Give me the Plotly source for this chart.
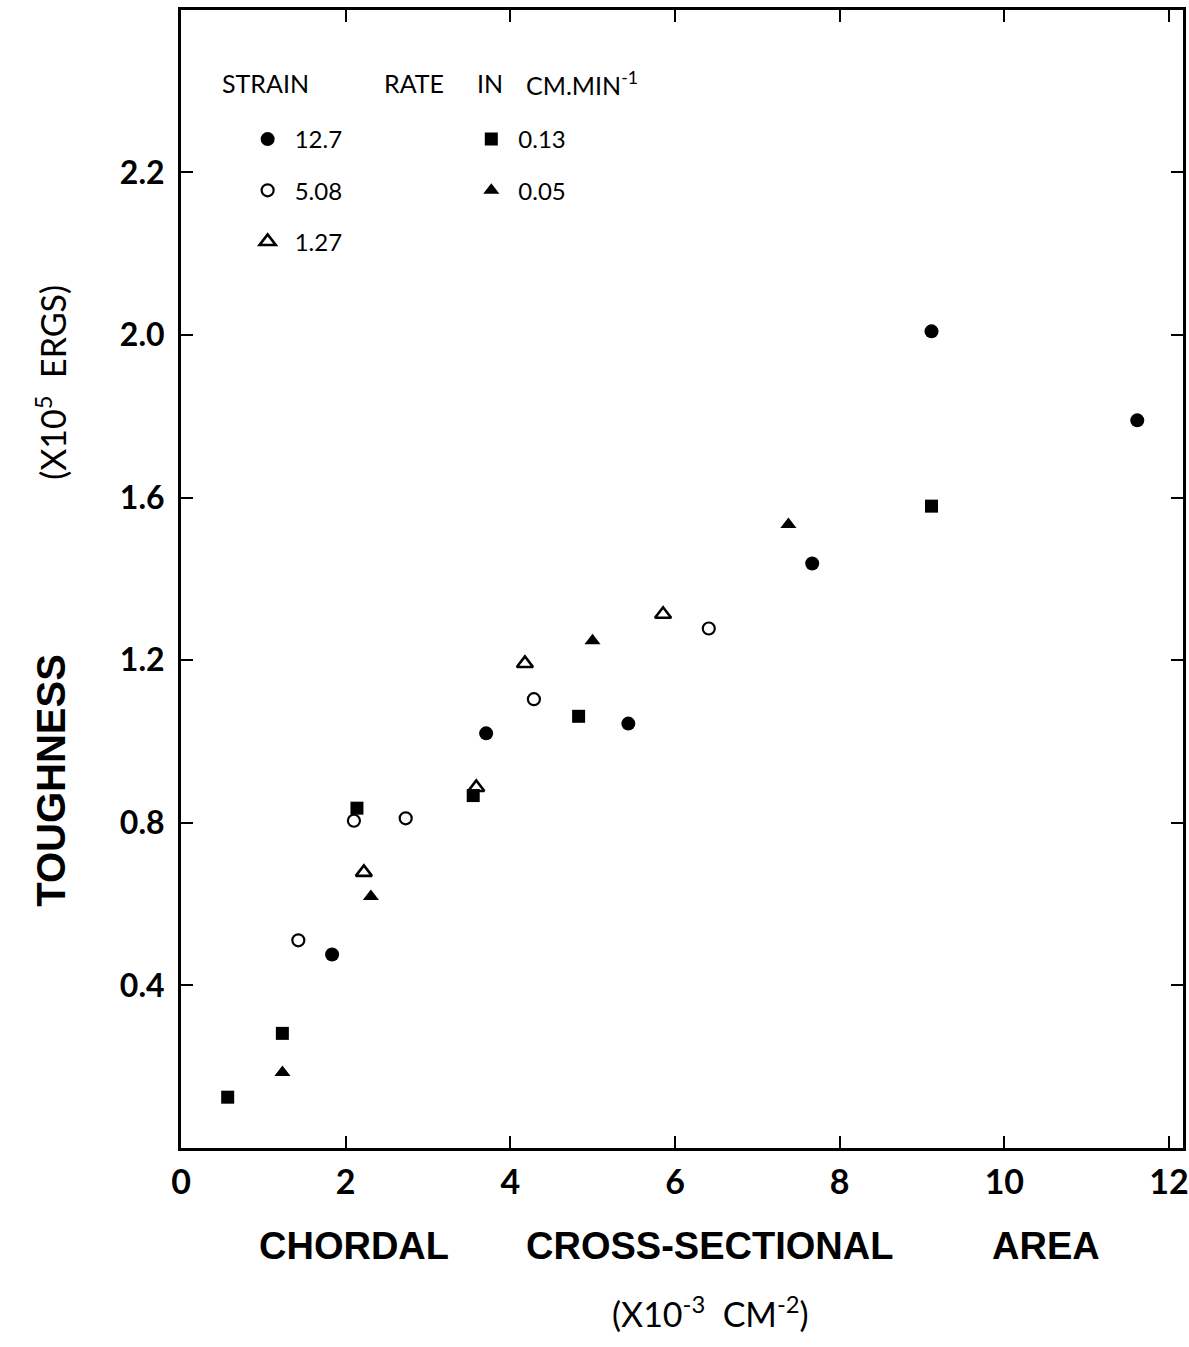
import plotly.graph_objects as go

# ---- data ----
series_labels = ["12.7", "5.08", "1.27", "0.13", "0.05"]

x_12_7 = [1.835, 3.706, 5.433, 7.666, 9.115, 11.614]
y_12_7 = [0.476, 1.020, 1.044, 1.438, 2.009, 1.790]

x_5_08 = [1.425, 2.100, 2.729, 4.286, 6.410]
y_5_08 = [0.511, 0.805, 0.811, 1.104, 1.278]

x_1_27 = [2.221, 3.586, 4.177, 5.855]
y_1_27 = [0.678, 0.887, 1.192, 1.313]

x_0_13 = [0.567, 1.231, 2.137, 3.549, 4.829, 9.115]
y_0_13 = [0.125, 0.282, 0.836, 0.867, 1.062, 1.579]

x_0_05 = [1.232, 2.306, 4.998, 7.377]
y_0_05 = [0.186, 0.619, 1.248, 1.534]

x_tickvals = [0, 2, 4, 6, 8, 10, 12]
x_ticktext = ["0", "2", "4", "6", "8", "10", "12"]
y_tickvals = [0.4, 0.8, 1.2, 1.6, 2.0, 2.4]
y_ticktext = ["0.4", "0.8", "1.2", "1.6", "2.0", "2.2"]

# ---- layout geometry ----
W, H = 1189, 1347
L, R, T, B = 181, 0, 10, 199
PW, PH = W - L - R, H - T - B


def px_x(px):
    return (px - L) / PW


def px_y(py):
    return (H - B - py) / PH


GEO = "Lato, 'Open Sans', 'DejaVu Sans', sans-serif"
HEAVY = "'Liberation Sans', Arial, sans-serif"

fig = go.Figure()

common = dict(mode="markers", cliponaxis=False)
fig.add_trace(go.Scatter(x=x_12_7, y=y_12_7, name=series_labels[0], legend="legend", legendgroup="a",
                         marker=dict(symbol="circle", size=14, color="black"), **common))
fig.add_trace(go.Scatter(x=x_5_08, y=y_5_08, name=series_labels[1], legend="legend", legendgroup="b",
                         marker=dict(symbol="circle-open", size=12, color="black", line=dict(width=2.2)), **common))
fig.add_trace(go.Scatter(x=x_1_27, y=y_1_27, name=series_labels[2], legend="legend", legendgroup="c",
                         marker=dict(symbol="triangle-up-open", size=14, color="black", line=dict(width=2.6)), **common))
fig.add_trace(go.Scatter(x=x_0_13, y=y_0_13, name=series_labels[3], legend="legend2", legendgroup="d",
                         marker=dict(symbol="square", size=13, color="black"), **common))
fig.add_trace(go.Scatter(x=x_0_05, y=y_0_05, name=series_labels[4], legend="legend2", legendgroup="e",
                         marker=dict(symbol="triangle-up", size=14, color="black"), **common))

legend_common = dict(
    font=dict(family=GEO, size=24, color="black"),
    bgcolor="rgba(0,0,0,0)", borderwidth=0,
    itemwidth=44, tracegroupgap=17,
    xanchor="left", yanchor="top", orientation="v",
)

annotations = []


def ann(text, px, py, size, family=GEO, xanchor="left", angle=0, color="black"):
    annotations.append(dict(
        text=text, x=px_x(px), y=px_y(py), xref="paper", yref="paper",
        xanchor=xanchor, yanchor="middle", showarrow=False, textangle=angle,
        font=dict(family=family, size=size, color=color),
    ))


# legend heading
ann("STRAIN", 220, 83, 25)
ann("RATE", 383, 83, 25)
ann("IN", 477, 83, 25)
ann("CM.MIN<sup>-1</sup>", 526, 83, 25)

# x-axis title
ann("<b>CHORDAL</b>", 355, 1246, 38, HEAVY, "center")
ann("<b>CROSS-SECTIONAL</b>", 713, 1246, 38, HEAVY, "center")
ann("<b>AREA</b>", 1051, 1246, 38, HEAVY, "center")
ann("(X10<sup>-3</sup>  CM<sup>-2</sup>)", 714, 1312, 34, GEO, "center")

# y-axis title
ann("<b>TOUGHNESS</b>", 50, 780, 40, HEAVY, "center", -90)
ann("(X10<sup>5</sup>  ERGS)", 50, 382, 34, GEO, "center", -90)

fig.update_layout(
    width=W, height=H,
    margin=dict(l=L, r=R, t=T, b=B, pad=0),
    paper_bgcolor="white", plot_bgcolor="white",
    showlegend=True,
    legend=dict(x=px_x(241), y=px_y(117), **legend_common),
    legend2=dict(x=px_x(466), y=px_y(117), **legend_common),
    annotations=annotations,
    xaxis=dict(
        range=[0, PW / 82.83], tickvals=x_tickvals, ticktext=x_ticktext,
        showgrid=False, zeroline=False, showline=True, linecolor="black", linewidth=3,
        ticks="inside", ticklen=12, tickwidth=2, tickcolor="black", mirror="ticks",
        tickfont=dict(family=GEO, size=34, color="black", weight="bold"),
        ticklabelstandoff=2, ticklabeloverflow="allow",
    ),
    yaxis=dict(
        range=[0, PH / 406.5], tickvals=y_tickvals, ticktext=y_ticktext,
        showgrid=False, zeroline=False, showline=True, linecolor="black", linewidth=3,
        ticks="inside", ticklen=12, tickwidth=2, tickcolor="black", mirror="ticks",
        tickfont=dict(family=GEO, size=32, color="black", weight="bold"),
        ticklabelstandoff=7,
    ),
)

fig.write_html("out.html")
